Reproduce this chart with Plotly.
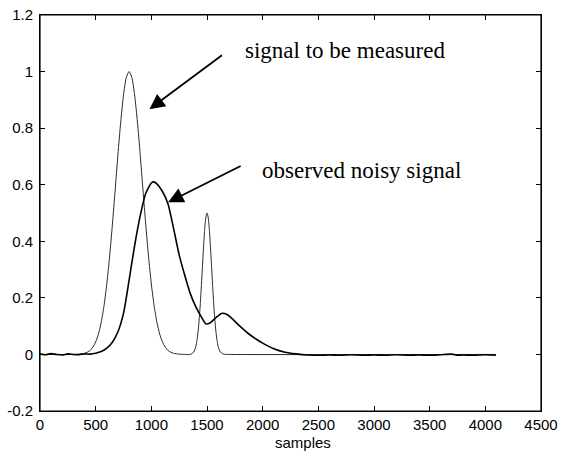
import plotly.graph_objects as go

# signal to be measured
true_x = [0, 300, 400, 425, 450, 475, 500, 525, 550, 575, 600, 625, 650, 675,
          700, 725, 750, 775, 800, 825, 850, 875, 900, 925, 950, 975, 1000,
          1025, 1050, 1075, 1100, 1125, 1150, 1175, 1200, 1250, 1300, 1350,
          1380, 1390, 1400, 1410, 1420, 1430, 1440, 1450, 1460, 1470, 1480,
          1490, 1500, 1510, 1520, 1530, 1540, 1550, 1560, 1570, 1580, 1590,
          1600, 1610, 1620, 1650, 1700, 4095]
true_y = [0.0, 0.0, 0.004, 0.008, 0.014, 0.026, 0.044, 0.072, 0.114, 0.172,
          0.249, 0.345, 0.458, 0.581, 0.707, 0.822, 0.917, 0.979, 1.0, 0.979,
          0.917, 0.822, 0.707, 0.581, 0.458, 0.345, 0.249, 0.172, 0.114,
          0.072, 0.044, 0.026, 0.014, 0.008, 0.004, 0.001, 0.0, 0.0, 0.008,
          0.016, 0.029, 0.05, 0.081, 0.125, 0.18, 0.246, 0.317, 0.387, 0.447,
          0.486, 0.5, 0.486, 0.447, 0.387, 0.317, 0.246, 0.18, 0.125, 0.081,
          0.05, 0.029, 0.016, 0.008, 0.001, 0.0, 0.0]

# observed noisy signal
obs_x = [0, 50, 100, 150, 200, 250, 300, 350, 400, 450, 500, 550, 600, 650,
         700, 750, 800, 850, 900, 950, 1000, 1020, 1050, 1100, 1150, 1200,
         1250, 1300, 1350, 1400, 1450, 1490, 1530, 1580, 1630, 1680, 1740,
         1800, 1870, 1950, 2000, 2100, 2200, 2300, 2400, 2500, 2600, 2700,
         2800, 2900, 3000, 3100, 3200, 3300, 3400, 3500, 3600, 3700, 3750,
         3800, 3900, 4000, 4095]
obs_y = [0.002, -0.001, 0.003, 0.0, -0.002, 0.002, 0.0, -0.001, 0.002, 0.001,
         0.004, 0.01, 0.022, 0.043, 0.08, 0.145, 0.262, 0.385, 0.49, 0.57,
         0.606, 0.61, 0.603, 0.576, 0.532, 0.445, 0.352, 0.28, 0.215, 0.168,
         0.132, 0.108, 0.112, 0.13, 0.145, 0.141, 0.121, 0.098, 0.074, 0.052,
         0.04, 0.02, 0.008, 0.002, -0.002, -0.003, -0.002, -0.003, -0.001,
         -0.003, -0.002, -0.003, -0.001, -0.003, -0.002, -0.003, -0.001,
         0.001, -0.003, -0.002, -0.003, -0.001, -0.003]

x_ticks = [0, 500, 1000, 1500, 2000, 2500, 3000, 3500, 4000, 4500]
x_labels = ["0", "500", "1000", "1500", "2000", "2500", "3000", "3500", "4000", "4500"]
y_ticks = [-0.2, 0, 0.2, 0.4, 0.6, 0.8, 1, 1.2]
y_labels = ["-0.2", "0", "0.2", "0.4", "0.6", "0.8", "1", "1.2"]

fig = go.Figure()
fig.add_trace(go.Scatter(x=true_x, y=true_y, mode="lines",
                         line=dict(color="#2a2a2a", width=1, shape="spline", smoothing=0.6),
                         showlegend=False, hoverinfo="skip"))
fig.add_trace(go.Scatter(x=obs_x, y=obs_y, mode="lines",
                         line=dict(color="black", width=1.6, shape="spline", smoothing=0.6),
                         showlegend=False, hoverinfo="skip"))

axis_style = dict(showline=True, linecolor="black", linewidth=1, mirror="allticks",
                  ticks="inside", ticklen=5, tickcolor="black", showgrid=False,
                  zeroline=False, automargin=False, ticklabeloverflow="allow",
                  tickfont=dict(family="Liberation Sans, Arial", size=15, color="black"))

fig.update_layout(
    width=562, height=455,
    margin=dict(l=40, r=21, t=15, b=44),
    paper_bgcolor="white", plot_bgcolor="white",
    xaxis=dict(range=[0, 4500], tickvals=x_ticks, ticktext=x_labels, **axis_style),
    yaxis=dict(range=[-0.2, 1.2], tickvals=y_ticks, ticktext=y_labels,
               ticklabelstandoff=3, **axis_style),
)

# box frame drawn on top
fig.add_shape(type="rect", xref="paper", yref="paper", x0=0, y0=0, x1=1, y1=1,
              line=dict(color="black", width=1.2), layer="above")

serif = dict(family="Liberation Serif, Times New Roman", size=23, color="black")

# arrows
fig.add_annotation(x=983, y=0.867, ax=74, ay=-55, showarrow=True, text="",
                   arrowhead=2, arrowsize=1.7, arrowwidth=1.8, arrowcolor="black")
fig.add_annotation(x=1151, y=0.538, ax=74, ay=-37, showarrow=True, text="",
                   arrowhead=2, arrowsize=1.7, arrowwidth=1.8, arrowcolor="black")

# labels
fig.add_annotation(x=1827, y=1.073, text="signal to be measured", showarrow=False,
                   xanchor="left", yanchor="middle", font=serif)
fig.add_annotation(x=1980, y=0.65, text="observed noisy signal", showarrow=False,
                   xanchor="left", yanchor="middle", font=serif)
fig.add_annotation(x=0.525, y=-(443 - 411) / 397, xref="paper", yref="paper",
                   text="samples", showarrow=False, yanchor="middle",
                   font=dict(family="Liberation Sans, Arial", size=15, color="black"))

# drop the default body margin so the figure sits at the window corner
fig.write_html("out.html", config={"displayModeBar": False},
               post_script="document.body.style.margin='0';")
